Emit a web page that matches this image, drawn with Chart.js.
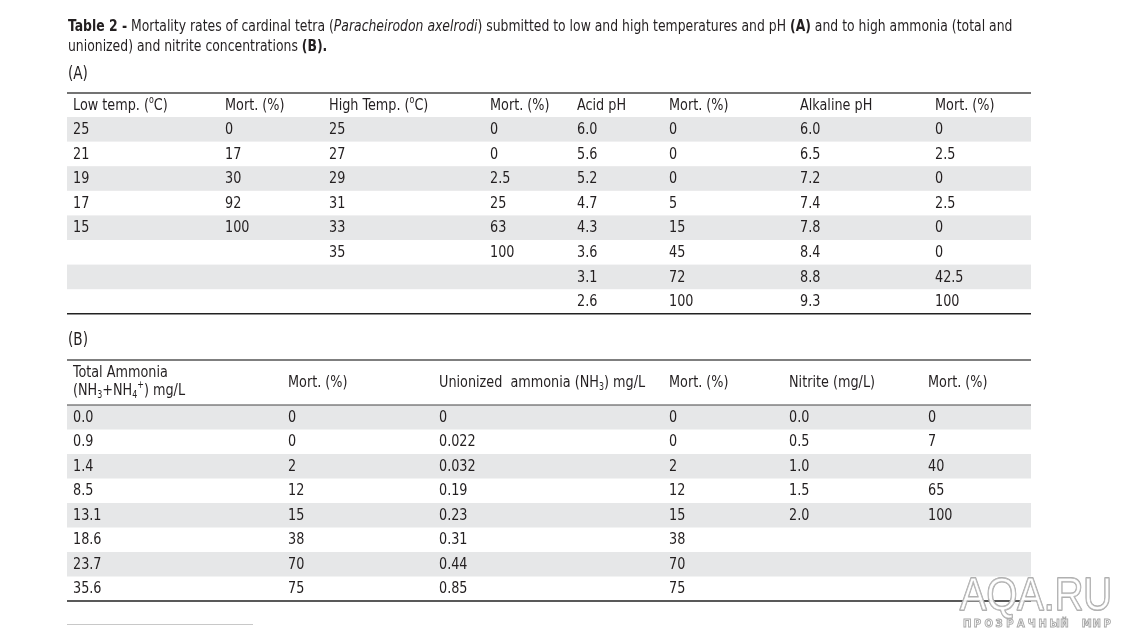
<!DOCTYPE html>
<html>
<head>
<meta charset="utf-8">
<script src="https://cdn.jsdelivr.net/npm/chart.js@4/dist/chart.umd.min.js"></script>
<style>
    body { margin: 0; background: #fff; }
    #wrap { width: 1122px; height: 632px; }
</style>
</head>
<body>
<div id="wrap"><canvas id="tableChart" width="1122" height="632"></canvas></div>
<script>
// table (A)
const lowTemp = ['25', '21', '19', '17', '15'];
const lowTempMort = ['0', '17', '30', '92', '100'];
const highTemp = ['25', '27', '29', '31', '33', '35'];
const highTempMort = ['0', '0', '2.5', '25', '63', '100'];
const acidPH = ['6.0', '5.6', '5.2', '4.7', '4.3', '3.6', '3.1', '2.6'];
const acidMort = ['0', '0', '0', '5', '15', '45', '72', '100'];
const alkPH = ['6.0', '6.5', '7.2', '7.4', '7.8', '8.4', '8.8', '9.3'];
const alkMort = ['0', '2.5', '0', '2.5', '0', '0', '42.5', '100'];

// table (B)
const totalAmmonia = ['0.0', '0.9', '1.4', '8.5', '13.1', '18.6', '23.7', '35.6'];
const totalMort = ['0', '0', '2', '12', '15', '38', '70', '75'];
const unionized = ['0', '0.022', '0.032', '0.19', '0.23', '0.31', '0.44', '0.85'];
const unionizedMort = ['0', '0', '2', '12', '15', '38', '70', '75'];
const nitrite = ['0.0', '0.5', '1.0', '1.5', '2.0'];
const nitriteMort = ['0', '7', '40', '65', '100'];

const headA = ['Low temp. (^{o}C)', 'Mort. (%)', 'High Temp. (^{o}C)', 'Mort. (%)', 'Acid pH', 'Mort. (%)', 'Alkaline pH', 'Mort. (%)'];
const headB = [['Total Ammonia', '(NH_{3}+NH_{4}^{+}) mg/L'], ['Mort. (%)'], ['Unionized  ammonia (NH_{3}) mg/L'], ['Mort. (%)'], ['Nitrite (mg/L)'], ['Mort. (%)']];

const title1 = '**Table 2 -** Mortality rates of cardinal tetra (//Paracheirodon axelrodi//) submitted to low and high temperatures and pH **(A)** and to high ammonia (total and';
const title2 = 'unionized) and nitrite concentrations **(B).**';

const colsA = [lowTemp, lowTempMort, highTemp, highTempMort, acidPH, acidMort, alkPH, alkMort];
const colsB = [totalAmmonia, totalMort, unionized, unionizedMort, nitrite, nitriteMort];

// layout
const FONT = '"Liberation Sans Narrow", "DejaVu Sans Condensed", "Arial Narrow", sans-serif';
const INK = '#231f20';
const STRIPE = '#e6e7e8';
const NARROW = 0.89;
const tableLeft = 67, tableRight = 1031;
const layoutA = { top: 93, head: 24, row: 24.6, rows: 8, x: [73, 225, 329, 490, 577, 669, 800, 935] };
const layoutB = { top: 360, head: 45, row: 24.5, rows: 8, x: [73, 288, 439, 669, 789, 928] };

function parseRich(str) {
    const parts = str.split(/(\*\*.*?\*\*|\/\/.*?\/\/|_\{.*?\}|\^\{.*?\})/).filter(s => s.length);
    return parts.map(p => {
        if (p.startsWith('**')) return { t: p.slice(2, -2), s: 'b' };
        if (p.startsWith('//')) return { t: p.slice(2, -2), s: 'i' };
        if (p.startsWith('_{')) return { t: p.slice(2, -1), s: 'sub' };
        if (p.startsWith('^{')) return { t: p.slice(2, -1), s: 'sup' };
        return { t: p, s: 'n' };
    });
}

// draws text runs squeezed horizontally by k, to look like the narrow print face
function drawRich(ctx, str, x, y, size, k) {
    k = k || NARROW;
    parseRich(str).forEach(seg => {
        let sz = size, dy = 0, w = '';
        if (seg.s === 'b') w = 'bold ';
        if (seg.s === 'i') w = 'italic ';
        if (seg.s === 'sub') { sz = size * 0.62; dy = size * 0.3; }
        if (seg.s === 'sup') { sz = size * 0.62; dy = -size * 0.32; }
        ctx.font = w + sz + 'px ' + FONT;
        ctx.save();
        ctx.translate(x, y + dy);
        ctx.scale(k, 1);
        ctx.fillText(seg.t, 0, 0);
        ctx.restore();
        x += ctx.measureText(seg.t).width * k;
    });
}

const tablePlugin = {
    id: 'tablePlugin',
    afterDraw(chart) {
        const ctx = chart.ctx;
        const sx = chart.scales.x, sy = chart.scales.y;
        const X = v => sx.getPixelForValue(v);
        const Y = v => sy.getPixelForValue(v);
        ctx.save();
        ctx.textBaseline = 'middle';
        ctx.textAlign = 'left';
        ctx.fillStyle = INK;

        drawRich(ctx, title1, X(68), Y(27), 15, 0.92);
        drawRich(ctx, title2, X(68), Y(47), 15, 0.92);
        drawRich(ctx, '(A)', X(68), Y(75), 17);
        drawRich(ctx, '(B)', X(68), Y(341), 17);

        function rule(y, w, c) {
            ctx.strokeStyle = c;
            ctx.lineWidth = w;
            ctx.beginPath();
            ctx.moveTo(X(tableLeft), Y(y));
            ctx.lineTo(X(tableRight), Y(y));
            ctx.stroke();
        }

        function body(lay, cols) {
            const y0 = lay.top + lay.head;
            for (let r = 0; r < lay.rows; r++) {
                if (r % 2 === 0) {
                    ctx.fillStyle = STRIPE;
                    ctx.fillRect(X(tableLeft), Y(y0 + r * lay.row), X(tableRight) - X(tableLeft), Y(y0 + (r + 1) * lay.row) - Y(y0 + r * lay.row));
                }
            }
            ctx.fillStyle = INK;
            cols.forEach((col, c) => {
                col.forEach((v, r) => {
                    drawRich(ctx, v, X(lay.x[c]), Y(y0 + (r + 0.5) * lay.row + 0.5), 16);
                });
            });
            rule(y0 + lay.rows * lay.row, 1.5, '#222');
        }

        // table A
        body(layoutA, colsA);
        rule(layoutA.top, 1.5, '#444');
        headA.forEach((h, c) => drawRich(ctx, h, X(layoutA.x[c]), Y(layoutA.top + layoutA.head / 2 + 0.5), 16));

        // table B
        body(layoutB, colsB);
        rule(layoutB.top, 1.5, '#555');
        rule(layoutB.top + layoutB.head, 1.2, '#444');
        headB.forEach((h, c) => {
            if (h.length === 2) {
                drawRich(ctx, h[0], X(layoutB.x[c]), Y(373), 16);
                drawRich(ctx, h[1], X(layoutB.x[c]), Y(391), 16);
            } else {
                drawRich(ctx, h[0], X(layoutB.x[c]), Y(383), 16);
            }
        });

        // footnote separator
        ctx.strokeStyle = '#c8c8c8';
        ctx.lineWidth = 1;
        ctx.beginPath();
        ctx.moveTo(X(67), Y(624.5));
        ctx.lineTo(X(253), Y(624.5));
        ctx.stroke();

        // watermark
        ctx.textBaseline = 'alphabetic';
        ctx.font = '47px "Liberation Sans", sans-serif';
        const mark = 'AQA.RU';
        const wk = 152 / ctx.measureText(mark).width;
        ctx.save();
        ctx.translate(X(960), Y(610));
        ctx.scale(wk, 1);
        ctx.fillStyle = 'rgba(255,255,255,0.92)';
        ctx.strokeStyle = '#a8a8a8';
        ctx.lineWidth = 2;
        ctx.lineJoin = 'round';
        ctx.strokeText(mark, 0, 0);
        ctx.fillText(mark, 0, 0);
        ctx.lineWidth = 0.8;
        ctx.strokeStyle = '#b8b8b8';
        ctx.strokeText(mark, 0, 0);
        ctx.restore();
        ctx.font = 'bold 10px "DejaVu Sans", sans-serif';
        ctx.strokeStyle = '#a8a8a8';
        ctx.lineWidth = 0.9;
        const sub = 'ПРОЗРАЧНЫЙ МИР';
        let wx = X(963);
        for (const ch of sub) {
            ctx.strokeText(ch, wx, Y(627));
            wx += 10.8;
        }
        ctx.restore();
    }
};

new Chart(document.getElementById('tableChart'), {
    type: 'scatter',
    data: { datasets: [{ data: [] }] },
    options: {
        responsive: false,
        animation: false,
        devicePixelRatio: 1,
        layout: { padding: 0 },
        plugins: { legend: { display: false }, tooltip: { enabled: false } },
        scales: {
            x: { type: 'linear', min: 0, max: 1122, display: false },
            y: { type: 'linear', min: 0, max: 632, reverse: true, display: false }
        }
    },
    plugins: [tablePlugin]
});
</script>
</body>
</html>
